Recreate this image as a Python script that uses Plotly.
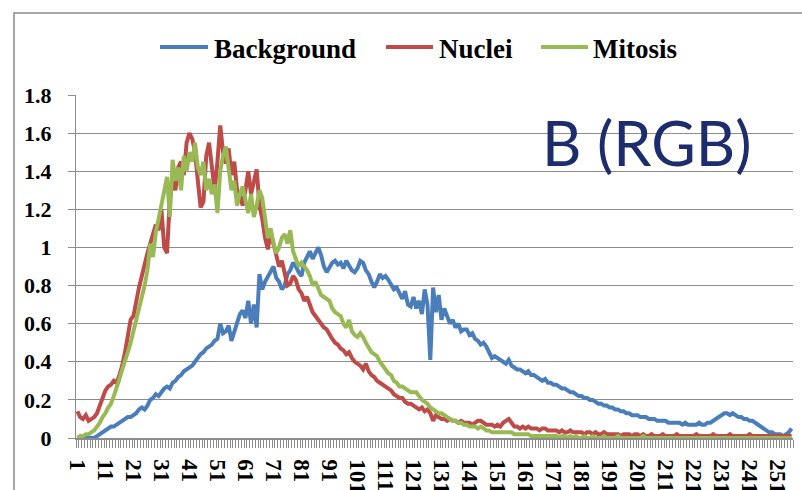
import plotly.graph_objects as go

# ---------------- data ----------------
bins = list(range(1, 257))

background = [
    0.00, 0.00, 0.00, 0.00, 0.00, 0.00, 0.00, 0.01, 0.02, 0.03,
    0.04, 0.05, 0.06, 0.06, 0.07, 0.08, 0.09, 0.10, 0.11, 0.11,
    0.12, 0.13, 0.15, 0.16, 0.15, 0.17, 0.20, 0.21, 0.23, 0.22,
    0.24, 0.26, 0.27, 0.26, 0.29, 0.30, 0.32, 0.33, 0.35, 0.36,
    0.37, 0.38, 0.40, 0.42, 0.44, 0.45, 0.47, 0.48, 0.49, 0.51,
    0.52, 0.60, 0.55, 0.56, 0.59, 0.51, 0.56, 0.60, 0.65, 0.67,
    0.63, 0.72, 0.60, 0.70, 0.58, 0.86, 0.78, 0.82, 0.85, 0.88,
    0.90, 0.84, 0.82, 0.78, 0.80, 0.86, 0.88, 0.92, 0.90, 0.87,
    0.85, 0.92, 0.95, 0.98, 0.94, 0.97, 1.00, 0.96, 0.90, 0.87,
    0.90, 0.92, 0.93, 0.91, 0.92, 0.89, 0.93, 0.90, 0.88, 0.87,
    0.89, 0.93, 0.92, 0.88, 0.86, 0.82, 0.79, 0.82, 0.86, 0.84,
    0.85, 0.83, 0.80, 0.78, 0.79, 0.76, 0.73, 0.77, 0.70, 0.69,
    0.74, 0.68, 0.72, 0.65, 0.78, 0.70, 0.41, 0.79, 0.66, 0.75,
    0.62, 0.68, 0.64, 0.60, 0.62, 0.58, 0.60, 0.56, 0.57, 0.57,
    0.54, 0.55, 0.52, 0.51, 0.49, 0.50, 0.48, 0.45, 0.42, 0.43,
    0.42, 0.41, 0.40, 0.39, 0.41, 0.38, 0.37, 0.36, 0.36, 0.35,
    0.34, 0.35, 0.33, 0.33, 0.32, 0.31, 0.30, 0.31, 0.29, 0.29,
    0.28, 0.28, 0.27, 0.26, 0.26, 0.25, 0.24, 0.24, 0.23, 0.22,
    0.22, 0.21, 0.21, 0.20, 0.20, 0.19, 0.18, 0.18, 0.17, 0.17,
    0.16, 0.16, 0.15, 0.15, 0.14, 0.14, 0.13, 0.13, 0.12, 0.12,
    0.12, 0.11, 0.11, 0.11, 0.10, 0.10, 0.10, 0.09, 0.09, 0.09,
    0.09, 0.08, 0.08, 0.08, 0.08, 0.08, 0.07, 0.08, 0.07, 0.07,
    0.07, 0.07, 0.08, 0.07, 0.07, 0.08, 0.08, 0.09, 0.10, 0.11,
    0.12, 0.13, 0.13, 0.12, 0.13, 0.12, 0.11, 0.11, 0.10, 0.10,
    0.09, 0.09, 0.08, 0.07, 0.06, 0.05, 0.04, 0.03, 0.03, 0.02,
    0.02, 0.02, 0.01, 0.02, 0.03, 0.05,
]

nuclei = [
    0.14, 0.11, 0.10, 0.12, 0.09, 0.10, 0.11, 0.13, 0.17, 0.22,
    0.25, 0.27, 0.28, 0.30, 0.29, 0.33, 0.38, 0.45, 0.55, 0.62,
    0.64, 0.72, 0.79, 0.85, 0.92, 0.97, 1.02, 1.08, 1.12, 1.09,
    1.20, 1.00, 0.97, 1.25, 1.35, 1.30, 1.42, 1.45, 1.38, 1.55,
    1.60, 1.57, 1.50, 1.35, 1.21, 1.24, 1.48, 1.55, 1.42, 1.30,
    1.45, 1.64, 1.50, 1.44, 1.52, 1.38, 1.45, 1.30, 1.27, 1.22,
    1.30, 1.40, 1.28, 1.35, 1.41, 1.22, 1.15, 1.05, 0.99, 1.08,
    1.02, 0.95, 0.90, 0.93, 0.86, 0.80, 0.81, 0.85, 0.83, 0.78,
    0.76, 0.72, 0.74, 0.70, 0.66, 0.64, 0.62, 0.60, 0.58, 0.57,
    0.54, 0.52, 0.50, 0.49, 0.47, 0.46, 0.44, 0.45, 0.42, 0.40,
    0.39, 0.38, 0.36, 0.39, 0.35, 0.33, 0.32, 0.30, 0.29, 0.28,
    0.27, 0.26, 0.25, 0.23, 0.22, 0.21, 0.21, 0.19, 0.18, 0.18,
    0.17, 0.16, 0.15, 0.16, 0.14, 0.15, 0.13, 0.09, 0.12, 0.11,
    0.10, 0.10, 0.09, 0.10, 0.09, 0.09, 0.08, 0.09, 0.08, 0.08,
    0.08, 0.07, 0.08, 0.09, 0.09, 0.08, 0.07, 0.07, 0.07, 0.06,
    0.07, 0.06, 0.08, 0.09, 0.10, 0.08, 0.06, 0.06, 0.05, 0.06,
    0.05, 0.06, 0.05, 0.05, 0.05, 0.04, 0.05, 0.05, 0.04, 0.04,
    0.04, 0.04, 0.03, 0.04, 0.03, 0.03, 0.04, 0.03, 0.03, 0.03,
    0.03, 0.02, 0.03, 0.03, 0.02, 0.03, 0.02, 0.02, 0.03, 0.02,
    0.02, 0.02, 0.02, 0.02, 0.01, 0.02, 0.02, 0.02, 0.01, 0.02,
    0.02, 0.01, 0.02, 0.01, 0.01, 0.02, 0.01, 0.01, 0.01, 0.02,
    0.01, 0.01, 0.01, 0.01, 0.02, 0.01, 0.01, 0.01, 0.01, 0.01,
    0.01, 0.02, 0.01, 0.01, 0.01, 0.01, 0.01, 0.02, 0.01, 0.01,
    0.01, 0.01, 0.01, 0.02, 0.01, 0.01, 0.01, 0.01, 0.01, 0.01,
    0.02, 0.01, 0.01, 0.01, 0.01, 0.01, 0.01, 0.01, 0.01, 0.01,
    0.01, 0.01, 0.01, 0.01, 0.01, 0.01,
]

mitosis = [
    0.00, 0.01, 0.01, 0.02, 0.02, 0.03, 0.04, 0.06, 0.08, 0.11,
    0.13, 0.16, 0.18, 0.22, 0.26, 0.31, 0.36, 0.40, 0.45, 0.50,
    0.56, 0.62, 0.66, 0.72, 0.80, 0.88, 1.02, 0.95, 1.08, 1.15,
    1.22, 1.30, 1.37, 1.16, 1.46, 1.35, 1.42, 1.30, 1.48, 1.40,
    1.50, 1.45, 1.55, 1.42, 1.38, 1.45, 1.30, 1.36, 1.28, 1.33,
    1.18, 1.40, 1.48, 1.53, 1.42, 1.30, 1.35, 1.22, 1.28, 1.32,
    1.25, 1.18, 1.28, 1.16, 1.22, 1.30, 1.26, 1.15, 1.05, 1.10,
    1.02, 0.97, 1.00, 1.05, 1.07, 1.02, 1.09, 0.98, 0.94, 0.90,
    0.92, 0.90, 0.88, 0.85, 0.80, 0.82, 0.78, 0.75, 0.74, 0.73,
    0.72, 0.68, 0.66, 0.65, 0.64, 0.60, 0.58, 0.62, 0.56, 0.54,
    0.53, 0.55, 0.53, 0.50, 0.47, 0.45, 0.44, 0.43, 0.40, 0.38,
    0.36, 0.34, 0.33, 0.30, 0.29, 0.27, 0.27, 0.26, 0.25, 0.24,
    0.24, 0.24, 0.22, 0.20, 0.19, 0.18, 0.16, 0.15, 0.14, 0.13,
    0.13, 0.12, 0.11, 0.10, 0.09, 0.09, 0.08, 0.08, 0.07, 0.07,
    0.06, 0.06, 0.06, 0.05, 0.06, 0.05, 0.04, 0.04, 0.03, 0.03,
    0.03, 0.03, 0.03, 0.03, 0.03, 0.03, 0.02, 0.02, 0.02, 0.02,
    0.02, 0.02, 0.01, 0.01, 0.01, 0.01, 0.01, 0.01, 0.01, 0.01,
    0.01, 0.01, 0.00, 0.01, 0.01, 0.00, 0.01, 0.00, 0.01, 0.00,
    0.00, 0.01, 0.00, 0.00, 0.01, 0.00, 0.00, 0.00, 0.01, 0.00,
    0.00, 0.00, 0.00, 0.01, 0.00, 0.00, 0.00, 0.00, 0.00, 0.00,
    0.00, 0.00, 0.01, 0.00, 0.00, 0.00, 0.00, 0.00, 0.00, 0.00,
    0.00, 0.00, 0.00, 0.00, 0.00, 0.00, 0.00, 0.00, 0.00, 0.00,
    0.00, 0.00, 0.00, 0.00, 0.00, 0.00, 0.00, 0.00, 0.00, 0.00,
    0.00, 0.00, 0.00, 0.00, 0.00, 0.00, 0.00, 0.00, 0.00, 0.00,
    0.00, 0.00, 0.00, 0.00, 0.00, 0.00, 0.00, 0.00, 0.00, 0.00,
    0.00, 0.00, 0.00, 0.00, 0.00, 0.00,
]

series_names = ["Background", "Nuclei", "Mitosis"]
series_colors = ["#4a7ebb", "#be4b48", "#98b954"]

x_tick_values = list(range(1, 257, 10))
x_tick_labels = [str(v) for v in x_tick_values]
y_tick_values = [0, 0.2, 0.4, 0.6, 0.8, 1.0, 1.2, 1.4, 1.6, 1.8]
y_tick_labels = ["0", "0.2", "0.4", "0.6", "0.8", "1", "1.2", "1.4", "1.6", "1.8"]

panel_label = "B (RGB)"

# ---------------- layout geometry (pixels) ----------------
W, H = 802, 490
L, R, T, B = 76, 9, 95, 52
PW, PH = W - L - R, H - T - B


def px_x(p):
    return (p - L) / PW


def px_y(p):
    return (H - B - p) / PH


fig = go.Figure()
for name, vals, col in zip(series_names, [background, nuclei, mitosis], series_colors):
    fig.add_trace(go.Scatter(
        x=bins, y=vals, mode="lines", name=name,
        line=dict(color=col, width=4),
        showlegend=False,
    ))

serif = "Liberation Serif"
grid = "#8c8c8c"

fig.update_layout(
    width=W, height=H,
    margin=dict(l=L, r=R, t=T, b=B, pad=0, autoexpand=False),
    paper_bgcolor="white",
    plot_bgcolor="white",
    xaxis=dict(
        range=[0.5, 256.5], automargin=False,
        tickmode="array", tickvals=x_tick_values, ticktext=x_tick_labels,
        tickangle=90,
        ticks="",
        showgrid=False, zeroline=False,
        showline=True, linecolor=grid, linewidth=1.5,
        tickfont=dict(family=serif, size=23, color="black", weight="bold"),
        ticklabelstandoff=15,
        minor=dict(dtick=1, tick0=0.5, ticks="outside", ticklen=8,
                   tickcolor="#8a8a8a", tickwidth=1, showgrid=False),
    ),
    yaxis=dict(
        range=[0, 1.8], automargin=False,
        tickmode="array", tickvals=y_tick_values, ticktext=y_tick_labels,
        ticks="outside", ticklen=7, tickcolor=grid, tickwidth=1.3,
        showgrid=True, gridcolor=grid, gridwidth=1.3,
        zeroline=False,
        showline=True, linecolor=grid, linewidth=1.3,
        tickfont=dict(family=serif, size=22, color="black", weight="bold"),
        ticklabelstandoff=12,
    ),
)

# outer chart-area border (runs off the right and bottom of the image)
fig.add_shape(type="rect", xref="paper", yref="paper",
              x0=px_x(14), x1=px_x(900), y0=px_y(700), y1=px_y(13),
              line=dict(color="#8a8a8a", width=1.5), layer="below")

# legend (line samples + labels) drawn at the reference's positions
legend_items = [(160, 208, 212), (386, 433, 437), (541, 588, 591)]
for (x0, x1, tx), name, col in zip(legend_items, series_names, series_colors):
    fig.add_shape(type="line", xref="paper", yref="paper",
                  x0=px_x(x0), x1=px_x(x1), y0=px_y(47), y1=px_y(47),
                  line=dict(color=col, width=4))
    fig.add_annotation(xref="paper", yref="paper", x=px_x(tx), y=px_y(49),
                       xanchor="left", yanchor="middle", showarrow=False,
                       text="<b>%s</b>" % name,
                       font=dict(family=serif, size=27, color="black"))

fig.add_annotation(xref="paper", yref="paper", x=px_x(540), y=px_y(142),
                   xanchor="left", yanchor="middle", showarrow=False,
                   text=panel_label,
                   font=dict(family="Lato", size=61, color="#1c2c6c"))

fig.write_html("out.html")
